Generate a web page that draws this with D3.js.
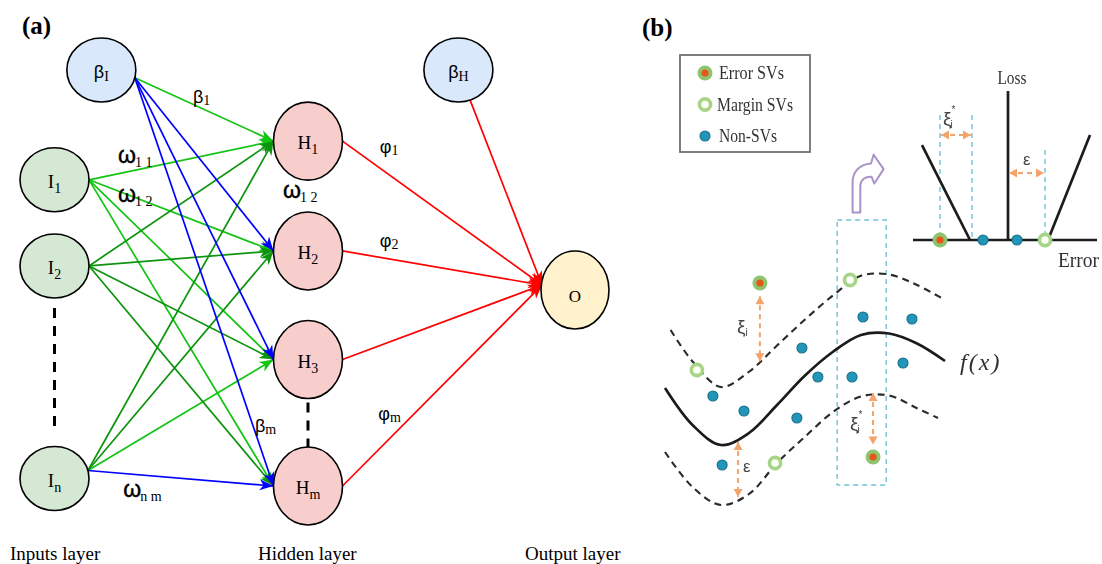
<!DOCTYPE html>
<html>
<head>
<meta charset="utf-8">
<script src="https://cdn.jsdelivr.net/npm/d3@7"></script>
<style>
  html, body { margin: 0; padding: 0; background: #ffffff; }
  svg { display: block; }
</style>
</head>
<body>
<svg id="chart" width="1102" height="564"></svg>
<script>
// ===================== (a) ELM-style network =====================
// Node grid: col 0..100 (left to right), row 0..100 (top to bottom)
const biasNodes   = [{ id: "bI", sym: "β", sub: "I", col: 9.0,  row: 0 },
                     { id: "bH", sym: "β", sub: "H", col: 77.6, row: 0 }];
const inputNodes  = [{ id: "I1", sym: "I", sub: "1", col: 0, row: 26.4 },
                     { id: "I2", sym: "I", sub: "2", col: 0, row: 47.1 },
                     { id: "In", sym: "I", sub: "n", col: 0, row: 98.2 }];
const hiddenNodes = [{ id: "H1", sym: "H", sub: "1", col: 48.7, row: 17.1 },
                     { id: "H2", sym: "H", sub: "2", col: 48.7, row: 43.5 },
                     { id: "H3", sym: "H", sub: "3", col: 48.7, row: 69.6 },
                     { id: "Hm", sym: "H", sub: "m", col: 48.7, row: 100 }];
const outputNodes = [{ id: "O", sym: "O", sub: "", col: 100, row: 52.9 }];

// Connections: [from, to, kind]
const connections = [
  ["I1", "H1", "light"], ["I1", "H2", "light"], ["I1", "H3", "light"], ["I1", "Hm", "light"],
  ["I2", "H1", "dark"],  ["I2", "H2", "dark"],  ["I2", "H3", "dark"],  ["I2", "Hm", "dark"],
  ["In", "H1", "dark"],  ["In", "H2", "dark"],  ["In", "H3", "light"], ["In", "Hm", "blue"],
  ["bI", "H1", "light"], ["bI", "H2", "blue"],  ["bI", "H3", "blue"],  ["bI", "Hm", "blue"],
  ["H1", "O", "red"], ["H2", "O", "red"], ["H3", "O", "red"], ["Hm", "O", "red"], ["bH", "O", "red"]
];
// Gaps in the node columns ("...")
const ellipsisPairs = [["I2", "In"], ["H3", "Hm"]];

// Weight / bias labels on the connections
const omegaLabels = [{ sym: "ω", sub: "1 1", col: 12.2, row: 22.4 },
                     { sym: "ω", sub: "1 2", col: 12.2, row: 31.7 },
                     { sym: "ω", sub: "1 2", col: 43.9, row: 30.8 },
                     { sym: "ω", sub: "n m", col: 13.2, row: 102.6 }];
const greekLabels = [{ sym: "β", sub: "1", col: 26.6, row: 7.9 },
                     { sym: "β", sub: "m", col: 38.5, row: 87.0 },
                     { sym: "φ", sub: "1", col: 62.5, row: 20.0 },
                     { sym: "φ", sub: "2", col: 62.5, row: 42.5 },
                     { sym: "φ", sub: "m", col: 62.2, row: 84.1 }];
const layerTitles    = ["Inputs layer", "Hidden layer", "Output layer"];
const layerTitleCols = [-8.55, 39.1, 90.4];
const layerTitleRow  = 117.8;

// ===================== (b) epsilon-SVR sketch =====================
// Regression function f(x) and the ε-tube, in (x, y) units
const fxX    = [0, 1, 2, 3, 4, 5, 6, 7, 8, 9, 10];
const fxY    = [4.88, 3.38, 2.6, 3.08, 4.2, 5.38, 6.33, 7.0, 7.06, 6.66, 5.96];
const upperX = [0.2, 1, 2, 3, 4, 5, 6, 7, 8, 9, 10];
const upperY = [7.2, 5.92, 4.92, 5.53, 6.58, 7.62, 8.58, 9.37, 9.42, 9.0, 8.4];
const lowerX = [0, 1, 2, 3, 4, 5, 6, 7, 8, 9, 9.75];
const lowerY = [2.32, 0.9, 0.2, 0.64, 1.88, 2.93, 3.92, 4.54, 4.58, 4.07, 3.68];

// Samples
const nonSVs    = [[1.71, 4.56], [2.82, 3.96], [4.71, 3.68], [4.89, 6.48], [5.46, 5.32],
                   [6.68, 5.32], [7.07, 7.72], [8.82, 7.64], [8.5, 5.88], [2.04, 1.8]];
const marginSVs = [[1.14, 5.6], [6.61, 9.2], [3.93, 1.88]];
const errorSVs  = [[3.39, 9.08], [7.43, 2.12]];

// Slack / tube-width arrows: [x, yTop, yBottom, symbol, sub, sup, labelX, labelY]
const slackArrows = [[3.39, 8.55, 5.95, "ξ", "i", "", 2.57, 7.08],
                     [7.43, 4.68, 2.62, "ξ", "i", "*", 6.61, 3.2],
                     [2.61, 2.72, 0.52, "ε", "", "", 2.79, 1.52]];
// Zoomed window around the second error SV
const windowX = [6.15, 7.9];
const windowY = [1.0, 11.6];

// ε-insensitive loss: error axis / loss axis units
const lossLeft   = [[-4.3, 6.33], [-1.9, 0]];
const lossRight  = [[2.0, 0], [4.1, 7.0]];
const errorRange = [-4.75, 4.45];
const lossTop    = 9.93;
const lossGuides = [[-3.4, 8.33], [-1.8, 8.33], [1.85, 6.0]];
const lossSamples = [["error", -3.4], ["non", -1.25], ["non", 0.45], ["margin", 1.85]];
const lossArrows  = [[-3.4, -1.8, 7.0], [0, 1.85, 4.47]];
const lossTexts   = [{ sym: "ξ", sub: "i", sup: "*", e: -3.25, l: 7.67 },
                     { sym: "ε", sub: "", sup: "", e: 0.75, l: 5.0 }];
const legendItems = [["error", "Error SVs"], ["margin", "Margin SVs"], ["non", "Non-SVs"]];

// ---------------------------------------------------------------
const svg = d3.select("#chart");
const defs = svg.append("defs");
const SERIF = "'Liberation Serif', 'Times New Roman', serif";
const SANS  = "'Liberation Sans', Arial, sans-serif";

const xA = d3.scaleLinear().domain([0, 100]).range([54.5, 575]);
const yA = d3.scaleLinear().domain([0, 100]).range([70, 486]);

const edgeColor = { light: "#14c414", dark: "#0c940c", blue: "#0000ff", red: "#ff0000" };
Object.entries(edgeColor).forEach(([k, c]) => {
  defs.append("marker")
    .attr("id", "arr-" + k)
    .attr("viewBox", "-15 -7 16 14")
    .attr("refX", 0).attr("refY", 0)
    .attr("markerWidth", 16).attr("markerHeight", 14)
    .attr("markerUnits", "userSpaceOnUse")
    .attr("orient", "auto")
    .append("path")
    .attr("d", "M0,0 L-14,-5.5 L-10,0 L-14,5.5Z")
    .attr("fill", c);
});

const shape = {
  bias:   { rx: 34.5, ry: 32, fill: "#dae8fc" },
  input:  { rx: 34.5, ry: 32, fill: "#d5e8d4" },
  hidden: { rx: 34.5, ry: 39, fill: "#f8cecc" },
  output: { rx: 34,   ry: 39, fill: "#fff2cc" }
};
const nodes = [
  ...biasNodes.map(d => ({ ...d, type: "bias" })),
  ...inputNodes.map(d => ({ ...d, type: "input" })),
  ...hiddenNodes.map(d => ({ ...d, type: "hidden" })),
  ...outputNodes.map(d => ({ ...d, type: "output" }))
];
const byId = new Map(nodes.map(n => [n.id, n]));
const cx = n => xA(n.col), cy = n => yA(n.row);

// connection end points on the ellipses
const portDy = { In: -8 };
function sourcePoint(n, t) {
  const s = shape[n.type];
  if (n.id === "bI") {
    const a = 14 * Math.PI / 180;
    return [cx(n) + s.rx * Math.cos(a), cy(n) + s.ry * Math.sin(a)];
  }
  if (n.type === "bias") {
    const [tx, ty] = targetPoint(t);
    const dx = tx - cx(n), dy = ty - cy(n);
    const k = 1 / Math.sqrt((dx / s.rx) ** 2 + (dy / s.ry) ** 2);
    return [cx(n) + k * dx, cy(n) + k * dy];
  }
  const dy = portDy[n.id] || 0;
  return [cx(n) + s.rx * Math.sqrt(1 - (dy / s.ry) ** 2), cy(n) + dy];
}
function targetPoint(n) {
  const s = shape[n.type];
  if (n.type === "output") return [cx(n) - s.rx + 1, cy(n) - 5];
  return [cx(n) - s.rx, cy(n)];
}

const gA = svg.append("g").attr("class", "panel-a");

// panel letter
gA.append("text").attr("x", 22).attr("y", 34)
  .attr("font-family", SERIF).attr("font-weight", "bold").attr("font-size", 25)
  .text("(a)");

// connections
const kindOrder = { light: 0, dark: 1, blue: 2, red: 3 };
const edges = connections.map(([f, t, k]) => ({ f: byId.get(f), t: byId.get(t), k }))
  .sort((a, b) => kindOrder[a.k] - kindOrder[b.k]);
gA.append("g").selectAll("line").data(edges).join("line")
  .each(function (d) {
    const [x1, y1] = sourcePoint(d.f, d.t);
    const [x2, y2] = targetPoint(d.t);
    d3.select(this).attr("x1", x1).attr("y1", y1).attr("x2", x2).attr("y2", y2);
  })
  .attr("stroke", d => edgeColor[d.k])
  .attr("stroke-width", 1.7)
  .attr("marker-end", d => `url(#arr-${d.k})`);

// "..." dashes between nodes
gA.append("g").selectAll("line").data(ellipsisPairs).join("line")
  .each(function ([a, b]) {
    const na = byId.get(a), nb = byId.get(b);
    const isHidden = na.type === "hidden";
    const y1 = cy(na) + shape[na.type].ry + (isHidden ? 4 : 10);
    const y2 = cy(nb) - shape[nb.type].ry - (isHidden ? 0 : 16);
    d3.select(this).attr("x1", cx(na)).attr("x2", cx(na)).attr("y1", y1).attr("y2", y2);
  })
  .attr("stroke", "#000").attr("stroke-width", 3).attr("stroke-dasharray", "10,8");

// nodes
const ng = gA.append("g").selectAll("g").data(nodes).join("g")
  .attr("transform", d => `translate(${cx(d)},${cy(d)})`);
ng.append("ellipse")
  .attr("rx", d => shape[d.type].rx).attr("ry", d => shape[d.type].ry)
  .attr("fill", d => shape[d.type].fill)
  .attr("stroke", "#000").attr("stroke-width", 1.6);
const nt = ng.append("text")
  .attr("text-anchor", "middle")
  .attr("y", d => d.type === "output" ? 12 : 8)
  .attr("font-family", d => d.type === "bias" ? SANS : SERIF)
  .attr("font-size", d => d.type === "bias" ? 18 : (d.type === "output" ? 17 : 19));
nt.append("tspan").text(d => d.sym);
nt.append("tspan")
  .attr("font-family", SERIF)
  .attr("font-size", 14)
  .attr("dy", d => d.type === "bias" ? 3 : 5)
  .text(d => d.sub);

// ω labels
const om = gA.append("g").selectAll("text").data(omegaLabels).join("text")
  .attr("x", d => xA(d.col)).attr("y", d => yA(d.row))
  .attr("font-family", SANS).attr("font-size", 23)
  .attr("stroke", "#000").attr("stroke-width", 0.4);
om.append("tspan").text(d => d.sym);
om.append("tspan").attr("font-family", SERIF).attr("font-size", 14).attr("dy", 4).attr("dx", -1)
  .attr("stroke", "none")
  .text(d => d.sub);

// β / φ labels
const gl = gA.append("g").selectAll("text").data(greekLabels).join("text")
  .attr("x", d => xA(d.col)).attr("y", d => yA(d.row))
  .attr("font-family", SANS).attr("font-size", 18);
gl.append("tspan").text(d => d.sym);
gl.append("tspan").attr("font-family", SERIF).attr("font-size", 14).attr("dy", 2)
  .text(d => d.sub);

// layer titles
gA.append("g").selectAll("text").data(layerTitles).join("text")
  .attr("x", (d, i) => xA(layerTitleCols[i])).attr("y", yA(layerTitleRow))
  .attr("font-family", SERIF).attr("font-size", 19)
  .text(d => d);

// ===================== (b) =====================
const soft = defs.append("filter").attr("id", "soft")
  .attr("x", "-5%").attr("y", "-5%").attr("width", "110%").attr("height", "110%");
soft.append("feGaussianBlur").attr("stdDeviation", 0.65);

const ORANGE = "#f2a46c", TEAL = "#2196b8", TEAL_EDGE = "#166f8c",
      RING = "#8fc46e", RING_LIGHT = "#a8d488", CORE = "#e5561c",
      GUIDE = "#72c2d8", PURPLE = "#a892c8";

defs.append("marker").attr("id", "arr-orange")
  .attr("viewBox", "-9 -5 10 10").attr("refX", 0).attr("refY", 0)
  .attr("markerWidth", 10).attr("markerHeight", 10)
  .attr("markerUnits", "userSpaceOnUse").attr("orient", "auto-start-reverse")
  .append("path").attr("d", "M0,0 L-8,-4.5 L-8,4.5Z").attr("fill", ORANGE);

svg.append("text").attr("x", 642).attr("y", 36)
  .attr("font-family", SERIF).attr("font-weight", "bold").attr("font-size", 25)
  .text("(b)");

const gB = svg.append("g").attr("class", "panel-b").attr("filter", "url(#soft)");

function drawSample(g, kind, x, y) {
  if (kind === "error") {
    g.append("circle").attr("cx", x).attr("cy", y).attr("r", 7.5).attr("fill", RING);
    g.append("circle").attr("cx", x).attr("cy", y).attr("r", 3.6).attr("fill", CORE);
  } else if (kind === "margin") {
    g.append("circle").attr("cx", x).attr("cy", y).attr("r", 5.6)
      .attr("fill", "#fbfff5").attr("stroke", RING_LIGHT).attr("stroke-width", 3.6);
  } else {
    g.append("circle").attr("cx", x).attr("cy", y).attr("r", 5)
      .attr("fill", TEAL).attr("stroke", TEAL_EDGE).attr("stroke-width", 1.1);
  }
}

// legend
const lg = gB.append("g").attr("transform", "translate(680,55)");
lg.append("rect").attr("width", 130).attr("height", 97)
  .attr("fill", "#fff").attr("stroke", "#707070").attr("stroke-width", 1.8);
legendItems.forEach(([kind, label], i) => {
  const yy = 18 + i * 31.5;
  drawSample(lg, kind, 25, yy);
  lg.append("text").attr("x", kind === "margin" ? 37 : 39).attr("y", yy + 6)
    .attr("font-family", SERIF).attr("font-size", 19).attr("fill", "#333")
    .attr("textLength", kind === "margin" ? 76 : (kind === "error" ? 65 : 58))
    .attr("lengthAdjust", "spacingAndGlyphs")
    .text(label);
});

// main sketch
const xF = d3.scaleLinear().domain([0, 10]).range([665, 945]);
const yF = d3.scaleLinear().domain([0, 10]).range([510, 260]);
const curve = d3.line().x(d => xF(d[0])).y(d => yF(d[1])).curve(d3.curveCatmullRom.alpha(0.5));

gB.append("rect")
  .attr("x", xF(windowX[0])).attr("y", yF(windowY[1]))
  .attr("width", xF(windowX[1]) - xF(windowX[0])).attr("height", yF(windowY[0]) - yF(windowY[1]))
  .attr("fill", "none").attr("stroke", GUIDE).attr("stroke-width", 1.4).attr("stroke-dasharray", "5,4");

gB.append("path").attr("d", curve(d3.zip(upperX, upperY)))
  .attr("fill", "none").attr("stroke", "#2a2a2a").attr("stroke-width", 2.1).attr("stroke-dasharray", "7,5");
gB.append("path").attr("d", curve(d3.zip(lowerX, lowerY)))
  .attr("fill", "none").attr("stroke", "#2a2a2a").attr("stroke-width", 2.1).attr("stroke-dasharray", "7,5");
gB.append("path").attr("d", curve(d3.zip(fxX, fxY)))
  .attr("fill", "none").attr("stroke", "#1a1a1a").attr("stroke-width", 2.7);

gB.append("text").attr("x", xF(10.54)).attr("y", yF(5.6))
  .attr("font-family", SERIF).attr("font-style", "italic").attr("font-size", 24)
  .attr("letter-spacing", 2).attr("fill", "#333")
  .text("f(x)");

// slack arrows
slackArrows.forEach(([x, y1, y2, sym, sub, sup, lx, ly]) => {
  gB.append("line")
    .attr("x1", xF(x)).attr("x2", xF(x)).attr("y1", yF(y1)).attr("y2", yF(y2))
    .attr("stroke", ORANGE).attr("stroke-width", 2).attr("stroke-dasharray", "5,4")
    .attr("marker-start", "url(#arr-orange)").attr("marker-end", "url(#arr-orange)");
  const t = gB.append("text").attr("x", xF(lx)).attr("y", yF(ly))
    .attr("font-family", SANS).attr("font-size", sym === "ε" ? 17 : 19).attr("fill", "#444");
  t.append("tspan").text(sym);
  if (sup) t.append("tspan").attr("font-size", 10).attr("dy", -12).text(sup);
  if (sub) t.append("tspan").attr("font-size", 10).attr("dy", sup ? 15 : 3).attr("dx", sup ? -5 : 0).text(sub);
});

nonSVs.forEach(([x, y]) => drawSample(gB, "non", xF(x), yF(y)));
marginSVs.forEach(([x, y]) => drawSample(gB, "margin", xF(x), yF(y)));
errorSVs.forEach(([x, y]) => drawSample(gB, "error", xF(x), yF(y)));

// curved pointer from the window to the loss plot
gB.append("path")
  .attr("transform", `translate(${xF(6.7)},${yF(11.9)})`)
  .attr("d", "M0,0 L0,-30 C0,-40 6,-48 18.4,-49 L21,-57.7 L31,-43.4 L21.7,-29 L19,-35.7 C13,-36 8,-33 7.7,-27 L7.7,0 Z")
  .attr("fill", "#fff").attr("stroke", PURPLE).attr("stroke-width", 2).attr("stroke-linejoin", "round");

// ε-insensitive loss
const xL = d3.scaleLinear().domain([-5, 5]).range([908, 1108]);
const yL = d3.scaleLinear().domain([0, 10]).range([240, 90]);
const lossLine = d3.line().x(d => xL(d[0])).y(d => yL(d[1]));

gB.append("g").selectAll("line").data(lossGuides).join("line")
  .attr("x1", d => xL(d[0])).attr("x2", d => xL(d[0]))
  .attr("y1", d => yL(d[1])).attr("y2", yL(0))
  .attr("stroke", GUIDE).attr("stroke-width", 1.4).attr("stroke-dasharray", "5,4");

gB.append("line").attr("x1", xL(errorRange[0])).attr("x2", xL(errorRange[1]))
  .attr("y1", yL(0)).attr("y2", yL(0)).attr("stroke", "#1a1a1a").attr("stroke-width", 2.7);
gB.append("line").attr("x1", xL(0)).attr("x2", xL(0))
  .attr("y1", yL(0)).attr("y2", yL(lossTop)).attr("stroke", "#1a1a1a").attr("stroke-width", 2.7);
[lossLeft, lossRight].forEach(seg => gB.append("path").attr("d", lossLine(seg))
  .attr("fill", "none").attr("stroke", "#1a1a1a").attr("stroke-width", 2.7));

lossArrows.forEach(([e1, e2, l]) => gB.append("line")
  .attr("x1", xL(e1) + 1).attr("x2", xL(e2) - 1).attr("y1", yL(l)).attr("y2", yL(l))
  .attr("stroke", ORANGE).attr("stroke-width", 2).attr("stroke-dasharray", "5,4")
  .attr("marker-start", "url(#arr-orange)").attr("marker-end", "url(#arr-orange)"));

lossSamples.forEach(([kind, e]) => drawSample(gB, kind, xL(e), yL(0)));

lossTexts.forEach(d => {
  const t = gB.append("text").attr("x", xL(d.e)).attr("y", yL(d.l))
    .attr("font-family", SANS).attr("font-size", d.sub ? 19 : 17).attr("fill", "#444");
  t.append("tspan").text(d.sym);
  if (d.sup) t.append("tspan").attr("font-size", 10).attr("dy", -12).text(d.sup);
  if (d.sub) t.append("tspan").attr("font-size", 10).attr("dy", 15).attr("dx", -5).text(d.sub);
});

gB.append("text").attr("x", xL(0.2)).attr("y", yL(10.4)).attr("text-anchor", "middle")
  .attr("font-family", SERIF).attr("font-size", 18).attr("fill", "#333")
  .attr("textLength", 29).attr("lengthAdjust", "spacingAndGlyphs").text("Loss");
gB.append("text").attr("x", xL(2.5)).attr("y", yL(-1.8))
  .attr("font-family", SERIF).attr("font-size", 20).attr("fill", "#333")
  .attr("textLength", 41).attr("lengthAdjust", "spacingAndGlyphs").text("Error");
</script>
</body>
</html>
